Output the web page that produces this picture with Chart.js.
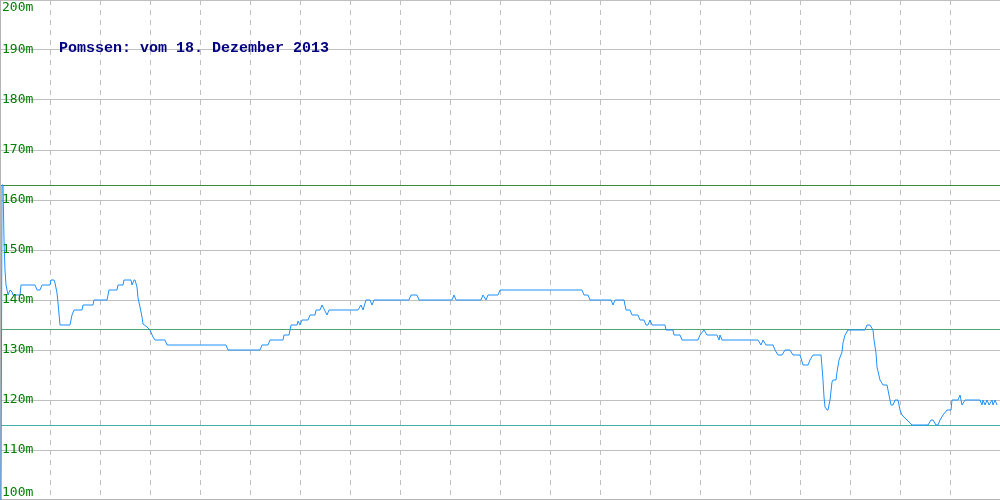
<!DOCTYPE html>
<html>
<head>
<meta charset="utf-8">
<script src="https://cdn.jsdelivr.net/npm/chart.js@4/dist/chart.umd.min.js"></script>
<style>
  html, body { margin: 0; padding: 0; background: #ffffff; }
  #wrap { width: 1000px; height: 500px; }
</style>
</head>
<body>
<div id="wrap"><canvas id="c" width="1000" height="500"></canvas></div>
<script>
// ---- data ----
const chartTitle = "Pomssen: vom 18. Dezember 2013";
const yTickValues = [100, 110, 120, 130, 140, 150, 160, 170, 180, 190, 200];
const yTickLabels = ["100m","110m","120m","130m","140m","150m","160m","170m","180m","190m","200m"];
const refLevels = [163, 134.2, 115];          // max / average / min lines
const refColors = ["#3a8a3e", "#52a373", "#40b0a8"];
const xPos = [1,2,3,4,5,6,8,10,12,13,20,21,35,37,40,42,50,51,54,55,57,58,60,70,72,74,82,83,93,94,107,109,117,118,123,124,131,132,134,135,137,138,140,142,143,147,150,153,155,165,167,226,228,260,262,268,270,283,284,289,291,297,298,300,302,308,310,315,316,320,322,327,329,358,361,363,366,370,372,374,409,411,417,419,452,454,456,481,483,486,488,498,500,582,584,588,590,611,613,615,624,626,630,632,638,640,644,646,648,650,652,665,666,673,674,680,682,698,700,704,707,717,719,720,722,758,761,763,766,773,775,778,782,785,790,793,800,803,808,810,813,821,822,823,824,825,827,828,830,832,833,836,837,839,842,843,845,848,865,867,870,873,874,876,877,880,883,887,888,890,891,893,895,898,900,902,907,912,928,931,933,936,938,940,943,947,951,952,958,960,962,965,980,982,983,985,987,989,992,993,995,997];
const heights = [100,163,163,152,146,143,141,142,141.6,141,141,143,143,142,142,143,143,144,144,143.4,141.4,139.4,135,135,137,138,138,139,139,140,140,142,142,143,143,144,144,143,144,144,142.6,140.4,138.6,136.6,135.2,134.6,134,132.6,132,132,131,131,130,130,131,131,132,132,133,133,135,135,135.8,135,136,136,137,137,138,138,139,137,138,138,139,138,140,140,139,140,140,141,141,140,140,141,140,140,141,140,141,141,142,142,141,141,140,140,139,140,140,138,138,137,137,136,136,135,135,136,135,135,134,134,133,133,132,132,133,134,133,133,132,133,132,132,131,132,131,131,130,129,129,130,130,129,129,127,127,128,129,129,126.6,124,120.6,118.6,118,118,120,123.6,124,124,125.6,128,129.6,131.4,133,134,134,135,135,134,132,129.4,126.6,124,123,123,122,120,119,119,120,120,118,117,116,115,115,116,116,115,115,116,117,118,118,120,120,121,119,120,120,119,120,119,120,119,120,119,120,119];

const points = xPos.map((x, i) => ({ x: x, y: heights[i] }));

const overlayPlugin = {
  id: 'overlay',
  beforeDatasetsDraw(chart) {
    const ctx = chart.ctx, ys = chart.scales.y, area = chart.chartArea;
    ctx.save();
    ctx.lineWidth = 1;
    refLevels.forEach((v, i) => {
      const py = Math.round(ys.getPixelForValue(v)) + 0.5;
      ctx.strokeStyle = refColors[i];
      ctx.beginPath();
      ctx.moveTo(area.left, py);
      ctx.lineTo(area.right, py);
      ctx.stroke();
    });
    // frame: left and bottom edges
    ctx.strokeStyle = "#b4b4b4";
    ctx.beginPath();
    ctx.moveTo(0.5, 0);
    ctx.lineTo(0.5, 500);
    ctx.moveTo(0, 499.5);
    ctx.lineTo(1000, 499.5);
    ctx.stroke();
    ctx.restore();
  },
  afterDraw(chart) {
    const ctx = chart.ctx, ys = chart.scales.y;
    ctx.save();
    ctx.font = "13px 'DejaVu Sans Mono'";
    ctx.fillStyle = "#008000";
    ctx.textAlign = "left";
    ctx.textBaseline = "middle";
    yTickValues.forEach((v, i) => {
      let py = ys.getPixelForValue(v);
      py = Math.max(8, Math.min(493, py));
      ctx.fillText(yTickLabels[i], 2, py);
    });
    ctx.font = "bold 15px 'Liberation Mono'";
    ctx.fillStyle = "#000080";
    ctx.textBaseline = "middle";
    ctx.fillText(chartTitle, 59, 48);
    ctx.restore();
  }
};

new Chart(document.getElementById('c'), {
  type: 'line',
  data: {
    datasets: [{
      data: points,
      borderColor: '#1e90ff',
      borderWidth: 1,
      pointRadius: 0,
      tension: 0,
      fill: false
    }]
  },
  options: {
    responsive: false,
    animation: false,
    events: [],
    layout: { padding: 0 },
    plugins: { legend: { display: false }, tooltip: { enabled: false }, title: { display: false } },
    scales: {
      x: {
        type: 'linear',
        min: 0, max: 1000,
        ticks: { display: false, stepSize: 50 },
        grid: { color: '#c0c0c0', lineWidth: 1, drawTicks: false },
        border: { display: false, dash: [5, 5] }
      },
      y: {
        type: 'linear',
        min: 100, max: 200,
        ticks: { display: false, stepSize: 10 },
        grid: { color: '#c0c0c0', lineWidth: 1, drawTicks: false },
        border: { display: false }
      }
    }
  },
  plugins: [overlayPlugin]
});
</script>
</body>
</html>
